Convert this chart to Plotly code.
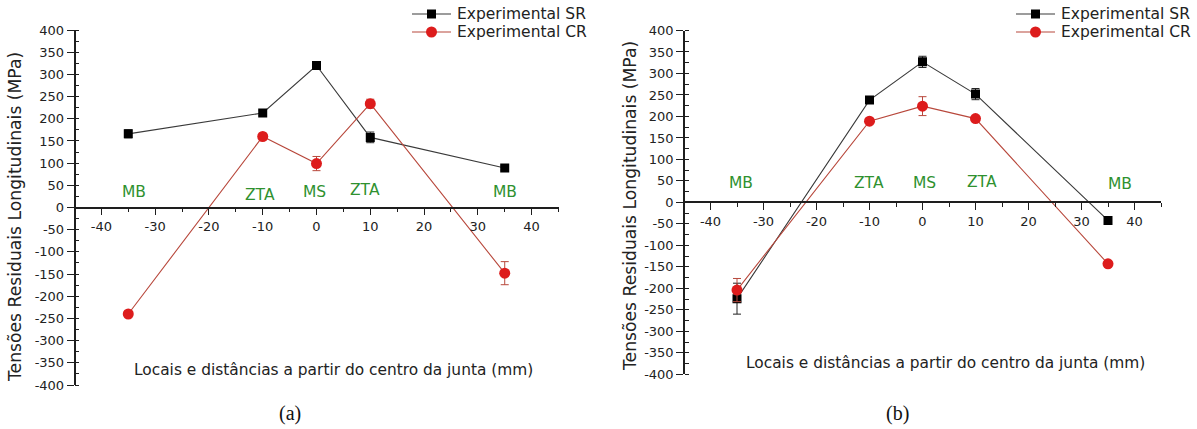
import plotly.graph_objects as go

# Measurement positions (mm from the joint centre)
positions = [-35, -10, 0, 10, 35]

# Panel (a)
sr_a = [166, 213, 320, 158, 89]
sr_a_err = [9, 6, 5, 12, 5]
cr_a = [-240, 160, 99, 234, -148]
cr_a_err = [4, 5, 16, 10, 26]

# Panel (b)
sr_b = [-224, 238, 327, 252, -42]
sr_b_err = [36, 5, 13, 13, 4]
cr_b = [-204, 189, 224, 195, -143]
cr_b_err = [27, 5, 22, 4, 4]

# Region labels along the weld
regions = ["MB", "ZTA", "MS", "ZTA", "MB"]
region_x_a = [-34, -10.5, -0.3, 9, 35]
region_y_a = [35, 29, 35, 39, 35]
region_x_b = [-34.2, -10.1, 0.3, 11.2, 37.2]
region_y_b = [45, 46, 45, 48, 42]

# Axis ticks (hyphen-minus labels)
x_ticks = [-40, -30, -20, -10, 0, 10, 20, 30, 40]
y_ticks = list(range(-400, 401, 50))

series_names = ["Experimental SR", "Experimental CR"]
y_title = "Tensões Residuais Longitudinais (MPa)"
x_title = "Locais e distâncias a partir do centro da junta (mm)"
captions = ["(a)", "(b)"]

W, H = 1197, 429
FONT = "DejaVu Sans, Verdana, sans-serif"
SERIF = "Liberation Serif, Times New Roman, serif"
TXT = "#222222"
SR_LINE = "#3a3a3a"
SR_MARK = "#000000"
CR_LINE = "#b8483c"
CR_MARK = "#dd1c1c"
GREEN = "#2f912f"


def px(xp):
    return xp / W


def py(yp):
    return 1 - yp / H


# Panel frames in pixels
frames = [
    dict(x0=74.5, x1=558.5, y0=30, y1=385),
    dict(x0=684, x1=1161, y0=30.5, y1=374.3),
]

panels = [
    dict(sr=sr_a, sre=sr_a_err, cr=cr_a, cre=cr_a_err, xa="x", ya="y",
         rx=region_x_a, ry=region_y_a),
    dict(sr=sr_b, sre=sr_b_err, cr=cr_b, cre=cr_b_err, xa="x2", ya="y2",
         rx=region_x_b, ry=region_y_b),
]

fig = go.Figure()

for p in panels:
    fig.add_trace(go.Scatter(
        x=positions, y=p["sr"], mode="lines+markers", name=series_names[0],
        xaxis=p["xa"], yaxis=p["ya"], showlegend=False,
        line=dict(color=SR_LINE, width=1.1),
        marker=dict(symbol="square", size=9, color=SR_MARK),
        error_y=dict(type="data", array=p["sre"], color="#222222",
                     thickness=1, width=4),
    ))
    fig.add_trace(go.Scatter(
        x=positions, y=p["cr"], mode="lines+markers", name=series_names[1],
        xaxis=p["xa"], yaxis=p["ya"], showlegend=False,
        line=dict(color=CR_LINE, width=1.1),
        marker=dict(symbol="circle", size=11, color=CR_MARK),
        error_y=dict(type="data", array=p["cre"], color=CR_LINE,
                     thickness=1, width=4),
    ))
    for lbl, rx, ry in zip(regions, p["rx"], p["ry"]):
        fig.add_annotation(x=rx, y=ry, xref=p["xa"], yref=p["ya"], text=lbl,
                           showarrow=False, xanchor="center", yanchor="middle",
                           font=dict(family=FONT, size=15.5, color=GREEN))

axis_common = dict(
    showgrid=False, zeroline=False, showline=True, linecolor="#1e1e1e",
    linewidth=1.5, ticks="outside", ticklen=7, tickwidth=1.3,
    tickcolor="#1e1e1e", tickfont=dict(family=FONT, size=13, color=TXT),
)

layout = dict(
    width=W, height=H,
    margin=dict(l=0, r=0, t=0, b=0, autoexpand=False),
    paper_bgcolor="white", plot_bgcolor="rgba(0,0,0,0)",
    font=dict(family=FONT, color=TXT), showlegend=False,
)

for i, f in enumerate(frames):
    sfx = "" if i == 0 else str(i + 1)
    xd = [px(f["x0"]), px(f["x1"])]
    yd = [py(f["y1"]), py(f["y0"])]
    layout["xaxis" + sfx] = dict(
        axis_common, domain=xd, range=[-45, 45], anchor="free",
        position=(yd[0] + yd[1]) / 2, tickmode="array", tickvals=x_ticks,
        ticktext=[str(v) for v in x_ticks],
        minor=dict(dtick=5, tick0=0, ticks="outside", ticklen=4,
                   tickcolor="#1e1e1e"),
    )
    layout["yaxis" + sfx] = dict(
        axis_common, domain=yd, range=[-400, 400], anchor="free",
        position=xd[0], tickmode="array", tickvals=y_ticks,
        ticktext=[str(v) for v in y_ticks],
        minor=dict(dtick=25, tick0=0, ticks="inside", ticklen=4,
                   tickcolor="#1e1e1e"),
    )
fig.update_layout(**layout)

# Legend key drawn for each panel
legend_boxes = [dict(lx0=412, lx1=451, tx=455), dict(lx0=1016, lx1=1055, tx=1059)]
row_y = [14, 32]
for b in legend_boxes:
    for k, ry in enumerate(row_y):
        lc = SR_LINE if k == 0 else CR_LINE
        mc = SR_MARK if k == 0 else CR_MARK
        fig.add_shape(type="line", xref="paper", yref="paper",
                      x0=px(b["lx0"]), x1=px(b["lx1"]), y0=py(ry), y1=py(ry),
                      line=dict(color=lc, width=1.1))
        cx = (b["lx0"] + b["lx1"]) / 2
        r = 4.5 if k == 0 else 5.5
        fig.add_shape(type="rect" if k == 0 else "circle",
                      xref="paper", yref="paper",
                      x0=px(cx - r), x1=px(cx + r), y0=py(ry + r), y1=py(ry - r),
                      fillcolor=mc, line=dict(color=mc, width=0))
        fig.add_annotation(x=px(b["tx"]), y=py(ry), xref="paper", yref="paper",
                           text=series_names[k], showarrow=False,
                           xanchor="left", yanchor="middle",
                           font=dict(family=FONT, size=15.5, color=TXT))

# Axis titles and panel captions
for xc, yc in [(15, 217), (630, 206)]:
    fig.add_annotation(x=px(xc), y=py(yc), xref="paper", yref="paper",
                       text=y_title, textangle=-90, showarrow=False,
                       xanchor="center", yanchor="middle",
                       font=dict(family=FONT, size=17.2, color=TXT))
for xc, yc in [(333, 370), (945, 363)]:
    fig.add_annotation(x=px(xc), y=py(yc), xref="paper", yref="paper",
                       text=x_title, showarrow=False,
                       xanchor="center", yanchor="middle",
                       font=dict(family=FONT, size=15.4, color=TXT))
for xc, txt in zip([290, 897], captions):
    fig.add_annotation(x=px(xc), y=py(413), xref="paper", yref="paper",
                       text=txt, showarrow=False,
                       xanchor="center", yanchor="middle",
                       font=dict(family=SERIF, size=20, color="#111111"))

fig.write_html("out.html")
